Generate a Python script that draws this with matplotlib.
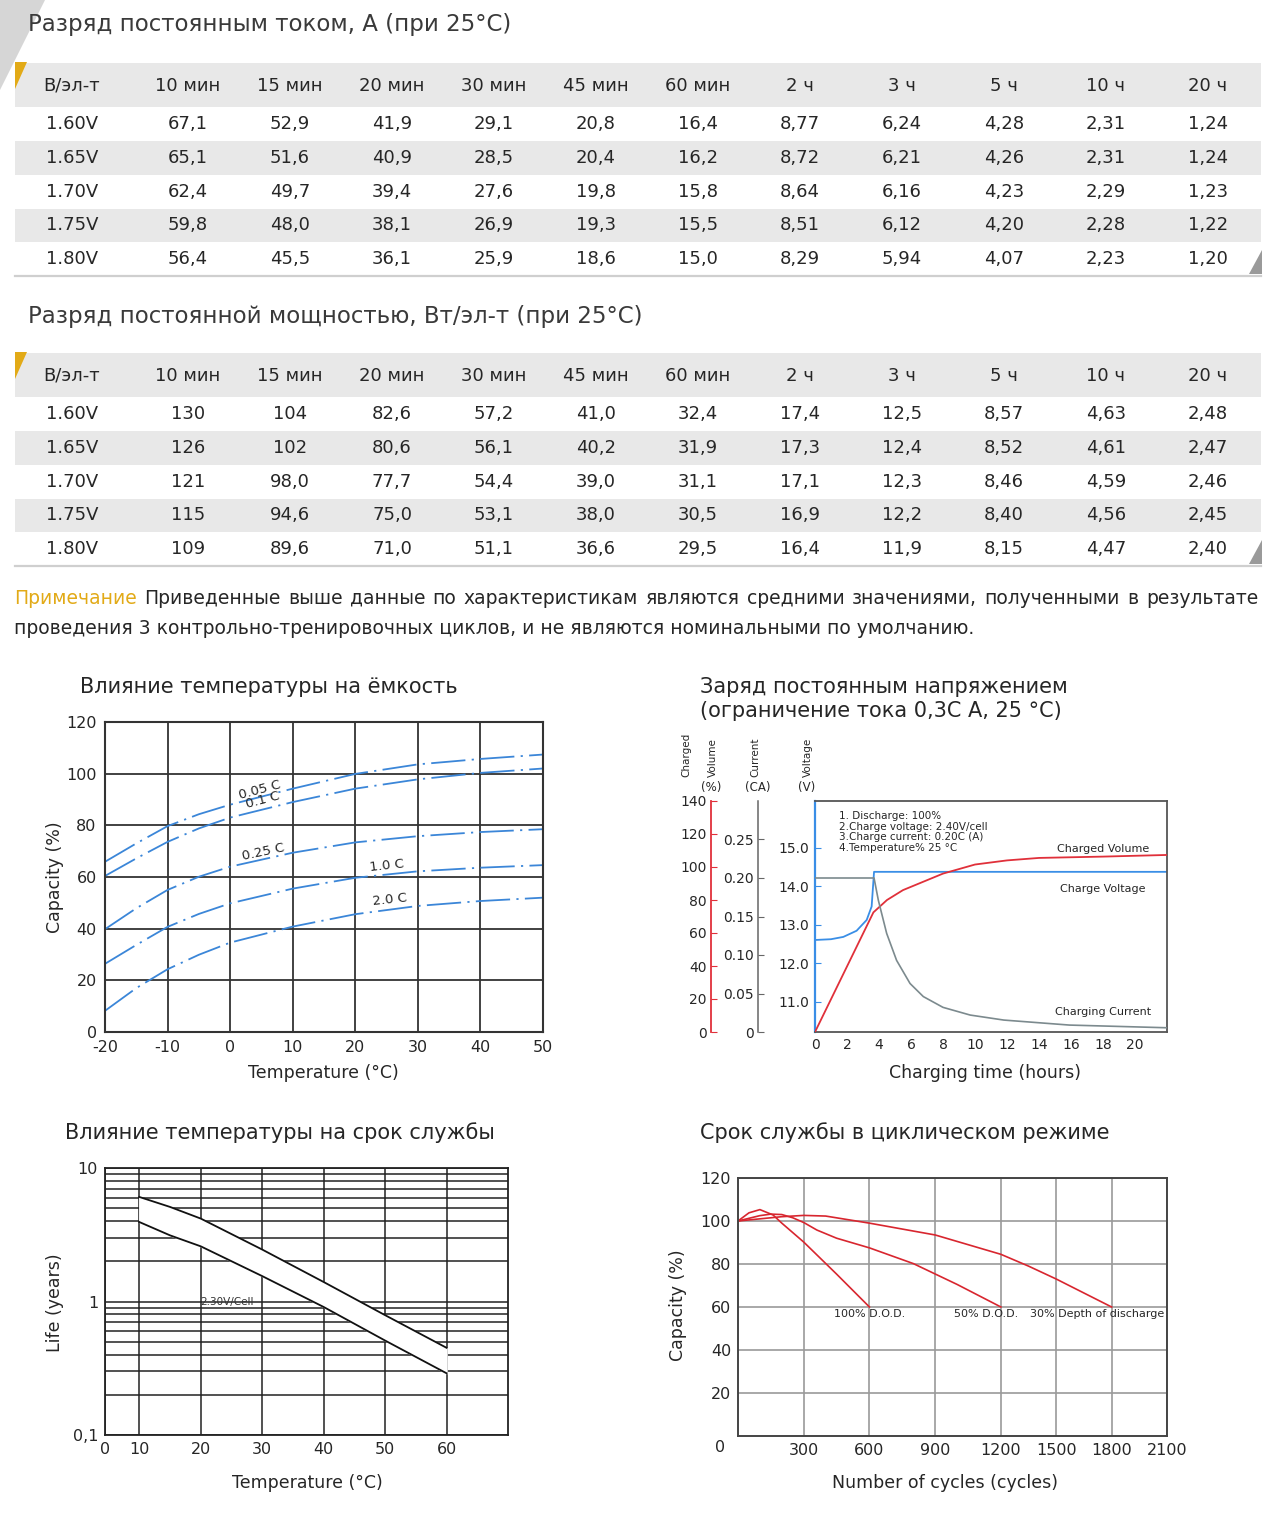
import numpy as np
import matplotlib
matplotlib.use("Agg")
import matplotlib.pyplot as plt
from matplotlib.patches import Polygon, Rectangle
from matplotlib.font_manager import FontProperties
from matplotlib.ticker import FixedLocator, NullFormatter, NullLocator

plt.rcParams['font.family'] = ['DejaVu Sans']
plt.rcParams['axes.unicode_minus'] = False

# ---------------- data ----------------
col_headers = ["В/эл-т", "10 мин", "15 мин", "20 мин", "30 мин", "45 мин", "60 мин",
               "2 ч", "3 ч", "5 ч", "10 ч", "20 ч"]
row_labels = ["1.60V", "1.65V", "1.70V", "1.75V", "1.80V"]

current_160 = [67.1, 52.9, 41.9, 29.1, 20.8, 16.4, 8.77, 6.24, 4.28, 2.31, 1.24]
current_165 = [65.1, 51.6, 40.9, 28.5, 20.4, 16.2, 8.72, 6.21, 4.26, 2.31, 1.24]
current_170 = [62.4, 49.7, 39.4, 27.6, 19.8, 15.8, 8.64, 6.16, 4.23, 2.29, 1.23]
current_175 = [59.8, 48.0, 38.1, 26.9, 19.3, 15.5, 8.51, 6.12, 4.20, 2.28, 1.22]
current_180 = [56.4, 45.5, 36.1, 25.9, 18.6, 15.0, 8.29, 5.94, 4.07, 2.23, 1.20]

power_160 = [130, 104, 82.6, 57.2, 41.0, 32.4, 17.4, 12.5, 8.57, 4.63, 2.48]
power_165 = [126, 102, 80.6, 56.1, 40.2, 31.9, 17.3, 12.4, 8.52, 4.61, 2.47]
power_170 = [121, 98.0, 77.7, 54.4, 39.0, 31.1, 17.1, 12.3, 8.46, 4.59, 2.46]
power_175 = [115, 94.6, 75.0, 53.1, 38.0, 30.5, 16.9, 12.2, 8.40, 4.56, 2.45]
power_180 = [109, 89.6, 71.0, 51.1, 36.6, 29.5, 16.4, 11.9, 8.15, 4.47, 2.40]

# temperature vs capacity
temps = [-20, -15, -10, -5, 0, 10, 20, 30, 40, 50]
cap_005c = [65.9, 73.0, 79.7, 84.3, 88.0, 94.2, 99.9, 103.6, 105.7, 107.4]
cap_01c = [60.4, 67.2, 73.6, 78.8, 83.0, 89.0, 94.2, 97.8, 100.3, 102.0]
cap_025c = [39.8, 47.9, 55.0, 60.1, 64.0, 69.4, 73.4, 75.8, 77.4, 78.5]
cap_10c = [26.4, 33.7, 40.7, 45.7, 49.8, 55.5, 59.7, 62.2, 63.6, 64.6]
cap_20c = [8.2, 17.0, 24.3, 29.9, 34.6, 40.8, 45.6, 48.8, 50.7, 52.0]
rate_labels = ["0.05 C", "0.1 C", "0.25 C", "1.0 C", "2.0 C"]

# constant-voltage charge
t_volume = [0, 3.65, 4.5, 5.5, 6.5, 8, 10, 12, 14, 18, 22]
charged_volume = [0, 72.5, 80, 86, 90, 96, 101.5, 104, 105.5, 106.3, 107.3]
t_voltage = [0, 1, 1.77, 2.6, 3.23, 3.54, 3.69, 22]
charge_voltage = [12.61, 12.63, 12.69, 12.85, 13.13, 13.48, 14.38, 14.38]
t_current = [0, 3.69, 3.96, 4.48, 5.1, 5.94, 6.77, 8.0, 9.7, 11.8, 15.9, 22]
charge_current = [0.2, 0.2, 0.171, 0.128, 0.093, 0.063, 0.046, 0.032, 0.022, 0.0155, 0.009, 0.0055]
charge_notes = ["1. Discharge: 100%", "2.Charge voltage: 2.40V/cell",
                "3.Charge current: 0.20C (A)", "4.Temperature% 25 °C"]

# life vs temperature
temp_life = [10, 15, 20, 30, 40, 50, 60]
life_upper = [6.07, 5.11, 4.18, 2.45, 1.40, 0.79, 0.45]
life_lower = [3.94, 3.13, 2.59, 1.55, 0.91, 0.51, 0.29]

# cycle life
dod100_x = [0, 50, 100, 160, 200, 300, 450, 600]
dod100_y = [100, 103.8, 105.3, 102.8, 99, 90.2, 75.3, 60]
dod50_x = [0, 100, 150, 200, 250, 300, 360, 450, 600, 800, 1000, 1200]
dod50_y = [100, 102.5, 103.2, 103, 101.5, 99.3, 95.8, 92, 87.5, 80.2, 70.5, 60]
dod30_x = [0, 100, 200, 300, 400, 600, 900, 1200, 1350, 1500, 1650, 1800]
dod30_y = [100, 101, 102, 102.6, 102.3, 99, 93.5, 84.5, 79, 73, 66.5, 60]

# ---------------- figure ----------------
W, H = 1280, 1519
fig = plt.figure(figsize=(W / 100, H / 100), dpi=100)
fig.patch.set_facecolor("white")

TXT = "#262626"
TITLE = "#3a3a3a"
GOLD = "#e2aa17"
BAND = "#e8e8e8"


def pbox(l, t, r, b):
    return [l / W, 1 - b / H, (r - l) / W, (b - t) / H]


bg = fig.add_axes([0, 0, 1, 1])
bg.set_xlim(0, W)
bg.set_ylim(H, 0)
bg.axis("off")

# decorative corner
bg.add_patch(Polygon([(0, 0), (45, 0), (0, 90)], closed=True, color="#d6d6d6", lw=0))


def fmt(v):
    if v >= 100:
        s = "%d" % round(v)
    elif v >= 10:
        s = "%.1f" % v
    else:
        s = "%.2f" % v
    return s.replace(".", ",")


def draw_table(title, title_y, top, rows):
    bg.text(28, title_y, title, fontsize=16.5, color=TITLE, ha="left", va="center")
    bg.add_patch(Rectangle((15, top), 1246, 44, color=BAND, lw=0))
    bg.add_patch(Polygon([(15, top - 1), (27, top - 1), (15, top + 26)], closed=True,
                         color=GOLD, lw=0))
    xs = [72] + [188 + 102 * i for i in range(11)]
    for x, h in zip(xs, col_headers):
        bg.text(x, top + 23, h, fontsize=13, color=TXT, ha="center", va="center")
    for r, (lab, vals) in enumerate(zip(row_labels, rows)):
        yc = top + 61 + r * 33.8
        if r % 2 == 1:
            bg.add_patch(Rectangle((15, yc - 16.9), 1246, 33.8, color=BAND, lw=0))
        bg.text(xs[0], yc, lab, fontsize=13, color=TXT, ha="center", va="center")
        for x, v in zip(xs[1:], vals):
            bg.text(x, yc, fmt(v), fontsize=13, color=TXT, ha="center", va="center")
    bg.plot([15, 1261], [top + 213, top + 213], color="#cfcfcf", lw=1.6)
    bg.add_patch(Polygon([(1262, top + 187), (1262, top + 211), (1249, top + 211)],
                         closed=True, color="#9a9a9a", lw=0))


draw_table("Разряд постоянным током, А (при 25°C)", 25, 63,
           [current_160, current_165, current_170, current_175, current_180])
draw_table("Разряд постоянной мощностью, Вт/эл-т (при 25°C)", 317, 353,
           [power_160, power_165, power_170, power_175, power_180])

# ---------------- note ----------------
renderer = fig.canvas.get_renderer()


def text_w(s, size):
    fp = FontProperties(family="DejaVu Sans", size=size)
    w, h, d = renderer.get_text_width_height_descent(s, fp, ismath=False)
    return w


note_word = "Примечание"
note_l1 = "Приведенные выше данные по характеристикам являются средними значениями, полученными в результате"
note_l2 = "проведения 3 контрольно-тренировочных циклов, и не являются номинальными по умолчанию."
nsize = 13.0 * 954.0 / text_w(note_l2, 13.0)
words = [note_word] + note_l1.split()
widths = [text_w(w, nsize) for w in words]
gap = (1258 - 14 - sum(widths)) / (len(words) - 1)
x = 14
for i, (wd, wv) in enumerate(zip(words, widths)):
    bg.text(x, 598, wd, fontsize=nsize, color=GOLD if i == 0 else TXT, ha="left", va="center")
    x += wv + gap
bg.text(14, 628, note_l2, fontsize=nsize, color=TXT, ha="left", va="center")

# ---------------- chart 1: temperature vs capacity ----------------
bg.text(80, 687, "Влияние температуры на ёмкость", fontsize=15, color=TXT, ha="left", va="center")
ax1 = fig.add_axes(pbox(105, 722, 543, 1032))
ax1.set_xlim(-20, 50)
ax1.set_ylim(0, 120)
ax1.set_xticks(range(-20, 51, 10))
ax1.set_yticks(range(0, 121, 20))
ax1.grid(True, color="#333333", lw=1.3)
ax1.set_axisbelow(True)
ax1.tick_params(length=0, labelsize=11.5, colors=TXT, pad=6)
for s in ax1.spines.values():
    s.set_color("#333333")
    s.set_linewidth(1.5)
BLUE = "#3b86d8"
for series in [cap_005c, cap_01c, cap_025c, cap_10c, cap_20c]:
    ax1.plot(temps, series, color=BLUE, lw=1.3, dashes=(19, 3.5, 1.2, 3.5))
lab_pos = [(4.8, 93.6, 15), (5.2, 89.7, 15), (5.3, 69.8, 12), (25.0, 64.4, 6), (25.5, 51.1, 6)]
for lab, (lx, ly, rot) in zip(rate_labels, lab_pos):
    ax1.text(lx, ly, lab, fontsize=9.5, color=TXT, ha="center", va="center", rotation=rot)
bg.text(323, 1073, "Temperature (°C)", fontsize=12.5, color=TXT, ha="center", va="center")
bg.text(55, 877, "Capacity (%)", fontsize=12.5, color=TXT, ha="center", va="center", rotation=90)

# ---------------- chart 2: charge ----------------
bg.text(700, 699, "Заряд постоянным напряжением\n(ограничение тока 0,3С А, 25 °С)",
        fontsize=15, color=TXT, ha="left", va="center", linespacing=1.2)
RED = "#e0303a"
VBLUE = "#3a8ee6"
GRAY = "#7c8a8e"
ax2 = fig.add_axes(pbox(815, 801, 1167, 1032))
ax2.set_xlim(0, 22)
ax2.set_ylim(10.22, 16.22)
ax2.set_xticks(range(0, 21, 2))
ax2.set_yticks([11, 12, 13, 14, 15])
ax2.set_yticklabels(["11.0", "12.0", "13.0", "14.0", "15.0"])
ax2.tick_params(axis="x", length=0, labelsize=10, colors=TXT, pad=4)
ax2.tick_params(axis="y", direction="in", length=4, color=VBLUE, labelcolor=TXT, labelsize=10, pad=4)
for k, s in ax2.spines.items():
    s.set_color("#555555")
    s.set_linewidth(1.3)
ax2.spines["left"].set_color(VBLUE)
ax2.spines["left"].set_linewidth(1.6)
ax2.plot(t_voltage, charge_voltage, color=VBLUE, lw=1.3)
ax2.text(1.5, 15.95, "\n".join(charge_notes), fontsize=7.5, color=TXT, ha="left", va="top",
         linespacing=1.05)

axr = ax2.twinx()
axr.set_ylim(0, 140)
axr.yaxis.set_ticks_position("left")
axr.spines["left"].set_position(("axes", (711 - 815) / 352))
axr.spines["left"].set_visible(True)
axr.spines["left"].set_color(RED)
axr.spines["left"].set_linewidth(1.3)
for k in ["right", "top", "bottom"]:
    axr.spines[k].set_visible(False)
axr.set_yticks(range(0, 141, 20))
axr.tick_params(axis="y", direction="in", length=4, color=RED, labelcolor=TXT, labelsize=10, pad=3)
axr.plot(t_volume, charged_volume, color=RED, lw=1.3)

axc = ax2.twinx()
axc.set_ylim(0, 0.3)
axc.yaxis.set_ticks_position("left")
axc.spines["left"].set_position(("axes", (758 - 815) / 352))
axc.spines["left"].set_visible(True)
axc.spines["left"].set_color("#666666")
axc.spines["left"].set_linewidth(1.1)
for k in ["right", "top", "bottom"]:
    axc.spines[k].set_visible(False)
axc.set_yticks([0, 0.05, 0.10, 0.15, 0.20, 0.25])
axc.set_yticklabels(["0", "0.05", "0.10", "0.15", "0.20", "0.25"])
axc.tick_params(axis="y", direction="in", length=4, color="#666666", labelcolor=TXT, labelsize=10, pad=3)
axc.plot(t_current, charge_current, color=GRAY, lw=1.2)

ax2.text(18.0, 14.97, "Charged Volume", fontsize=8, color=TXT, ha="center", va="center")
ax2.text(18.0, 13.93, "Charge Voltage", fontsize=8, color=TXT, ha="center", va="center")
ax2.text(18.0, 10.73, "Charging Current", fontsize=8, color=TXT, ha="center", va="center")

for txt, x, y in [("Charged", 686, 777), ("Volume", 713, 777), ("Current", 755, 777), ("Voltage", 808, 777)]:
    bg.text(x, y, txt, fontsize=7.5, color=TXT, rotation=90, ha="center", va="bottom")
for txt, x in [("(%)", 711), ("(CA)", 758), ("(V)", 807)]:
    bg.text(x, 787, txt, fontsize=8.5, color=TXT, ha="center", va="center")
bg.text(985, 1073, "Charging time (hours)", fontsize=12.5, color=TXT, ha="center", va="center")

# ---------------- chart 3: life vs temperature ----------------
bg.text(65, 1133, "Влияние температуры на срок службы", fontsize=15, color=TXT, ha="left", va="center")
ax3 = fig.add_axes(pbox(105, 1168, 508, 1435))
ax3.set_yscale("log")
ax3.set_ylim(0.1, 10)
ax3.set_xlim(4.42, 70)
ax3.xaxis.set_major_locator(FixedLocator([4.42, 10, 20, 30, 40, 50, 60]))
ax3.set_xticklabels(["0", "10", "20", "30", "40", "50", "60"])
ax3.yaxis.set_major_locator(FixedLocator([0.1, 1, 10]))
ax3.set_yticklabels(["0,1", "1", "10"])
ax3.yaxis.set_minor_locator(FixedLocator([0.2, 0.3, 0.4, 0.5, 0.6, 0.7, 0.8, 0.9,
                                          2, 3, 4, 5, 6, 7, 8, 9]))
ax3.yaxis.set_minor_formatter(NullFormatter())
ax3.grid(True, which="both", color="#222222", lw=1.1)
ax3.set_axisbelow(True)
ax3.tick_params(which="both", length=0, labelsize=11.5, colors=TXT, pad=5)
for s in ax3.spines.values():
    s.set_color("#222222")
    s.set_linewidth(1.3)
ax3.fill_between(temp_life, life_lower, life_upper, color="white", zorder=2)
ax3.plot(temp_life, life_upper, color="#111111", lw=1.3, zorder=3)
ax3.plot(temp_life, life_lower, color="#111111", lw=1.3, zorder=3)
ax3.text(20, 1.0, "2.30V/Cell", fontsize=7.5, color="#333333", ha="left", va="center", zorder=4)
bg.text(307, 1483, "Temperature (°C)", fontsize=12.5, color=TXT, ha="center", va="center")
bg.text(55, 1303, "Life (years)", fontsize=12.5, color=TXT, ha="center", va="center", rotation=90)

# ---------------- chart 4: cycle life ----------------
bg.text(700, 1133, "Срок службы в циклическом режиме", fontsize=15, color=TXT, ha="left", va="center")
ax4 = fig.add_axes(pbox(738, 1178, 1167, 1436))
k2 = 55.0 / 65.3


def fwd(x):
    return np.interp(x, [0, 1200, 2100, 10000], [0, 1200, 1200 + 900 * k2, 1200 + 8800 * k2],
                     left=-1e9)


def inv(y):
    return np.interp(y, [0, 1200, 1200 + 900 * k2, 1200 + 8800 * k2], [0, 1200, 2100, 10000],
                     left=-1e9)


ax4.set_xscale("function", functions=(fwd, inv))
ax4.set_xlim(0, 2100)
ax4.set_ylim(0, 120)
ax4.xaxis.set_major_locator(FixedLocator(range(300, 2101, 300)))
ax4.xaxis.set_minor_locator(NullLocator())
ax4.set_xticklabels([str(v) for v in range(300, 2101, 300)])
ax4.set_yticks(range(20, 121, 20))
ax4.grid(True, color="#9a9a9a", lw=1.2)
ax4.set_axisbelow(True)
ax4.tick_params(length=0, labelsize=11.5, colors=TXT, pad=5)
for s in ax4.spines.values():
    s.set_color("#444444")
    s.set_linewidth(1.4)
CRED = "#d8262f"
ax4.plot(dod100_x, dod100_y, color=CRED, lw=1.2)
ax4.plot(dod50_x, dod50_y, color=CRED, lw=1.2)
ax4.plot(dod30_x, dod30_y, color=CRED, lw=1.2)
ax4.text(600, 56.6, "100% D.O.D.", fontsize=8, color=TXT, ha="center", va="center")
ax4.text(1134, 56.6, "50% D.O.D.", fontsize=8, color=TXT, ha="center", va="center")
ax4.text(1724, 56.6, "30% Depth of discharge", fontsize=8, color=TXT, ha="center", va="center")
bg.text(720, 1447, "0", fontsize=11.5, color=TXT, ha="center", va="center")
bg.text(945, 1483, "Number of cycles (cycles)", fontsize=12.5, color=TXT, ha="center", va="center")
bg.text(678, 1305, "Capacity (%)", fontsize=12.5, color=TXT, ha="center", va="center", rotation=90)

fig.savefig("out.png", dpi=100, facecolor="white")
